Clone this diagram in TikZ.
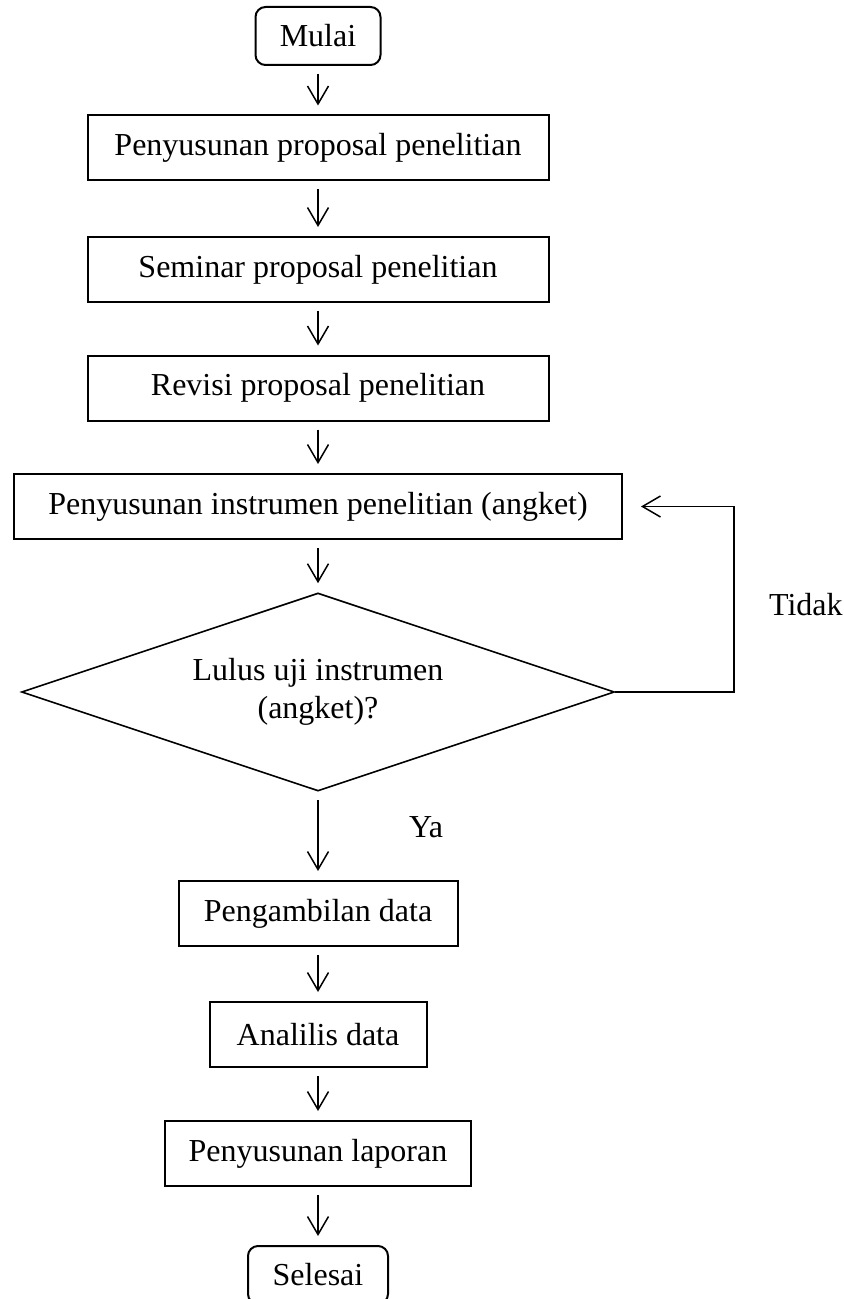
\documentclass[tikz,border=0pt]{standalone}
\usepackage{fontspec}
\setmainfont{Liberation Serif}
\usepackage{tikz}
\usetikzlibrary{shapes.geometric,arrows.meta,positioning}

\begin{document}
\begin{tikzpicture}[x=1pt,y=1pt,font=\fontsize{16}{19}\selectfont,
    kotak/.style={draw,line width=1pt,minimum height=32.5pt,inner sep=0pt},
    ujung/.style={draw,line width=1pt,rounded corners=5pt,minimum width=62.5pt,minimum height=29pt,inner sep=0pt},
    panah/.style={line width=0.75pt,-{Straight Barb[length=9pt,width=10.5pt]},shorten <=4pt,shorten >=4.5pt}]
    \useasboundingbox (0,0) rectangle (421.5,-649.5);
    \node[ujung] (mulai) at (159,-18) {Mulai};
    \node[kotak,minimum width=230.5pt] (susun) at (159,-74) {Penyusunan proposal penelitian};
    \node[kotak,minimum width=230.5pt] (seminar) at (159,-134.75) {Seminar proposal penelitian};
    \node[kotak,minimum width=230.5pt] (revisi) at (159,-194) {Revisi proposal penelitian};
    \node[kotak,minimum width=304pt] (instrumen) at (159,-253.25) {Penyusunan instrumen penelitian (angket)};
    \node[diamond,aspect=3,draw,line width=0.8pt,minimum width=296.5pt,minimum height=99pt,inner sep=0pt,align=center] (uji) at (159,-346) {Lulus uji instrumen\\(angket)?};
    \node[kotak,minimum width=139.5pt] (ambil) at (159,-456.75) {Pengambilan data};
    \node[kotak,minimum width=108.5pt] (analisis) at (159,-517.25) {Analilis data};
    \node[kotak,minimum width=153pt] (laporan) at (159,-576.75) {Penyusunan laporan};
    \node[ujung,minimum width=70pt] (selesai) at (159,-637.5) {Selesai};
    \foreach \a/\b in {mulai/susun,susun/seminar,seminar/revisi,revisi/instrumen,instrumen/uji,uji/ambil,ambil/analisis,analisis/laporan,laporan/selesai} {
      \draw[panah] (\a) -- (\b);
    }
    % jalur kembali jika tidak lulus
    \coordinate (balik) at (367,-346);
    \draw[line width=0.75pt,-{Straight Barb[length=9pt,width=10.5pt]},shorten >=9pt] (uji.east) -- (balik) |- (instrumen.east);
    \node[anchor=west] (tidak) at (381,-302.5) {Tidak};
    \node[anchor=west] (ya) at (201,-413.5) {Ya};
\end{tikzpicture}
\end{document}
